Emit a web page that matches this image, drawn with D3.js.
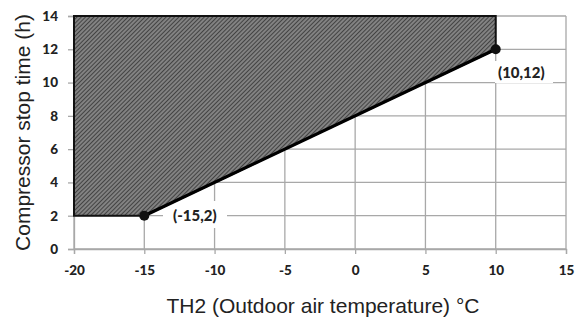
<!DOCTYPE html>
<html>
<head>
<meta charset="utf-8">
<script src="https://cdn.jsdelivr.net/npm/d3@7"></script>
<style>
  html, body { margin: 0; padding: 0; background: #fff; }
  svg { display: block; }
</style>
</head>
<body>
<svg id="chart" width="576" height="320"></svg>
<script>
// Compressor stop time vs. outdoor air temperature
const xTicks = [-20, -15, -10, -5, 0, 5, 10, 15];
const yTicks = [0, 2, 4, 6, 8, 10, 12, 14];
// Boundary of the stop-time region (°C, hours)
const regionX = [-20, -15, 10, 10, -20];
const regionY = [2, 2, 12, 14, 14];
// Marked break points
const pointX = [-15, 10];
const pointY = [2, 12];
const pointLabels = ["(-15,2)", "(10,12)"];
const xTitle = "TH2 (Outdoor air temperature) °C";
const yTitle = "Compressor stop time (h)";

const svg = d3.select("#chart");
const x = d3.scaleLinear().domain([-20, 15]).range([74, 566]);
const y = d3.scaleLinear().domain([0, 14]).range([249, 16]);
const fmt = d => String(d); // plain hyphen for negatives

// hatch pattern
const defs = svg.append("defs");
const pat = defs.append("pattern")
  .attr("id", "hatch").attr("patternUnits", "userSpaceOnUse")
  .attr("width", 3).attr("height", 3)
  .attr("patternTransform", "rotate(45)");
pat.append("rect").attr("width", 3).attr("height", 3).attr("fill", "#828282");
pat.append("line").attr("x1", 0).attr("y1", 0).attr("x2", 0).attr("y2", 3)
  .attr("stroke", "#2e2e2e").attr("stroke-width", 1.5);

// grid
const grid = svg.append("g").attr("stroke", "#a8a8a8").attr("stroke-width", 1.3);
grid.selectAll("line.v").data(xTicks).join("line")
  .attr("x1", d => x(d)).attr("x2", d => x(d))
  .attr("y1", y(0)).attr("y2", y(14));
grid.selectAll("line.h").data(yTicks).join("line")
  .attr("x1", x(-20)).attr("x2", x(15))
  .attr("y1", d => y(d)).attr("y2", d => y(d));

// axes with outward ticks
const yAxis = svg.append("g").attr("transform", `translate(${x(-20)},0)`)
  .call(d3.axisLeft(y).tickValues(yTicks).tickSize(6).tickPadding(10).tickFormat(fmt));
const xAxis = svg.append("g").attr("transform", `translate(0,${y(0)})`)
  .call(d3.axisBottom(x).tickValues(xTicks).tickSize(5).tickPadding(11).tickFormat(fmt));
[xAxis, yAxis].forEach(a => {
  a.select(".domain").attr("stroke", "#a8a8a8").attr("stroke-width", 1.3);
  a.selectAll(".tick line").attr("stroke", "#a8a8a8").attr("stroke-width", 1.3);
  a.selectAll(".tick text").attr("fill", "#222")
    .style("font-family", "Lato, 'Open Sans', sans-serif")
    .style("font-weight", "900").style("font-size", "13.5px");
});

// point labels with white backing (drawn before the region so the fill stays on top)
const labelPos = [[173, 216], [498, 73]];
const labelBoxes = [[163, 201, 64, 27], [495, 61, 58, 22]];
pointLabels.forEach((lbl, i) => {
  const b = labelBoxes[i];
  svg.append("rect").attr("x", b[0]).attr("y", b[1]).attr("width", b[2]).attr("height", b[3])
    .attr("fill", "#fff");
  svg.append("text").text(lbl)
    .attr("x", labelPos[i][0]).attr("y", labelPos[i][1]).attr("dy", "0.35em")
    .style("font-family", "Lato, 'Open Sans', sans-serif")
    .style("font-weight", "900").style("font-size", "15px").attr("fill", "#222");
});

// shaded region
const pts = regionX.map((d, i) => [x(d), y(regionY[i])]);
svg.append("path")
  .attr("d", d3.line()(pts) + "Z")
  .attr("fill", "url(#hatch)")
  .attr("stroke", "#111").attr("stroke-width", 2);
// heavier sloped boundary
svg.append("path")
  .attr("d", d3.line()([pts[1], pts[2]]))
  .attr("stroke", "#000").attr("stroke-width", 3.2).attr("fill", "none");

// points
svg.selectAll("circle.pt").data(pointX).join("circle")
  .attr("cx", d => x(d)).attr("cy", (d, i) => y(pointY[i]))
  .attr("r", 5).attr("fill", "#111");

// axis titles
svg.append("text").text(xTitle)
  .attr("x", 323).attr("y", 313).attr("text-anchor", "middle")
  .style("font-family", "Arial, 'Liberation Sans', sans-serif")
  .style("font-size", "21px").attr("fill", "#222");
svg.append("text").text(yTitle)
  .attr("transform", `translate(30,${(y(0) + y(14)) / 2}) rotate(-90)`)
  .attr("text-anchor", "middle")
  .style("font-family", "Arial, 'Liberation Sans', sans-serif")
  .style("font-size", "21px").attr("fill", "#222");
</script>
</body>
</html>
